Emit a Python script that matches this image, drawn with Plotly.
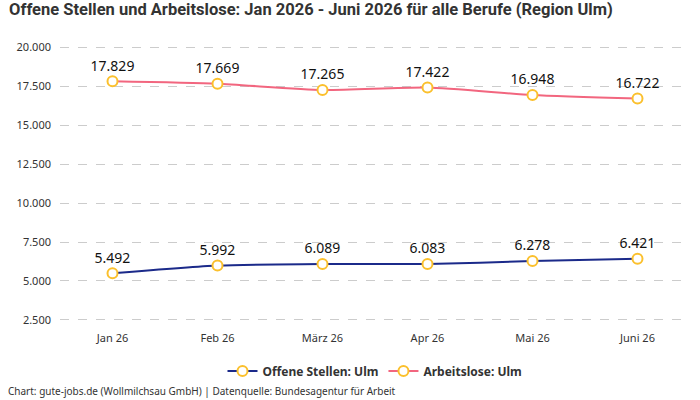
import plotly.graph_objects as go

months = ["Jan 26", "Feb 26", "März 26", "Apr 26", "Mai 26", "Juni 26"]
offene = [5492, 5992, 6089, 6083, 6278, 6421]
arbeitslose = [17829, 17669, 17265, 17422, 16948, 16722]
tick_vals = [2500, 5000, 7500, 10000, 12500, 15000, 17500, 20000]

def fmt(v):
    return f"{v:,}".replace(",", ".")

tick_text = [fmt(v) for v in tick_vals]

fig = go.Figure()
for name, vals, col in [("Offene Stellen: Ulm", offene, "#1b2a8a"),
                        ("Arbeitslose: Ulm", arbeitslose, "#f2667f")]:
    fig.add_trace(go.Scatter(
        x=months, y=vals, name=name, mode="lines+markers+text",
        line=dict(color=col, width=2, shape="spline", smoothing=0.6),
        marker=dict(size=10, color="white", line=dict(color="#fbc02d", width=2)),
        text=[fmt(v) for v in vals], textposition="top center",
        textfont=dict(family="Noto Sans", size=14, color="#111"),
    ))

fig.update_layout(
    width=700, height=400,
    margin=dict(l=60, r=10, t=35, b=70),
    paper_bgcolor="white", plot_bgcolor="white",
    title=dict(text="<b>Offene Stellen und Arbeitslose: Jan 2026 - Juni 2026 für alle Berufe (Region Ulm)</b>",
               x=0.013, xanchor="left", y=0.978, yanchor="middle",
               font=dict(family="Liberation Sans Narrow, Roboto", size=16.5, color="#333")),
    font=dict(family="Noto Sans", color="#333"),
    xaxis=dict(type="category", range=[-0.5, 5.5], showgrid=False, showline=False,
               ticks="", tickfont=dict(size=11, color="#333")),
    yaxis=dict(range=[1850, 20800], tickvals=tick_vals, ticktext=tick_text,
               showgrid=True, gridcolor="#cccccc", griddash="dash", zeroline=False,
               tickfont=dict(size=11, color="#333"), ticklabelstandoff=8),
    legend=dict(orientation="h", x=0.5, xanchor="center", y=-0.09, yanchor="top",
                font=dict(size=12, color="#333", weight="bold")),
    showlegend=True,
)
fig.add_annotation(text="Chart: gute-jobs.de (Wollmilchsau GmbH) | Datenquelle: Bundesagentur für Arbeit",
                   xref="paper", yref="paper", x=-0.085, y=-0.208, xanchor="left", yanchor="middle",
                   showarrow=False, font=dict(size=10, color="#333"))
fig.update_yaxes(automargin=False)
fig.write_html("out.html")
